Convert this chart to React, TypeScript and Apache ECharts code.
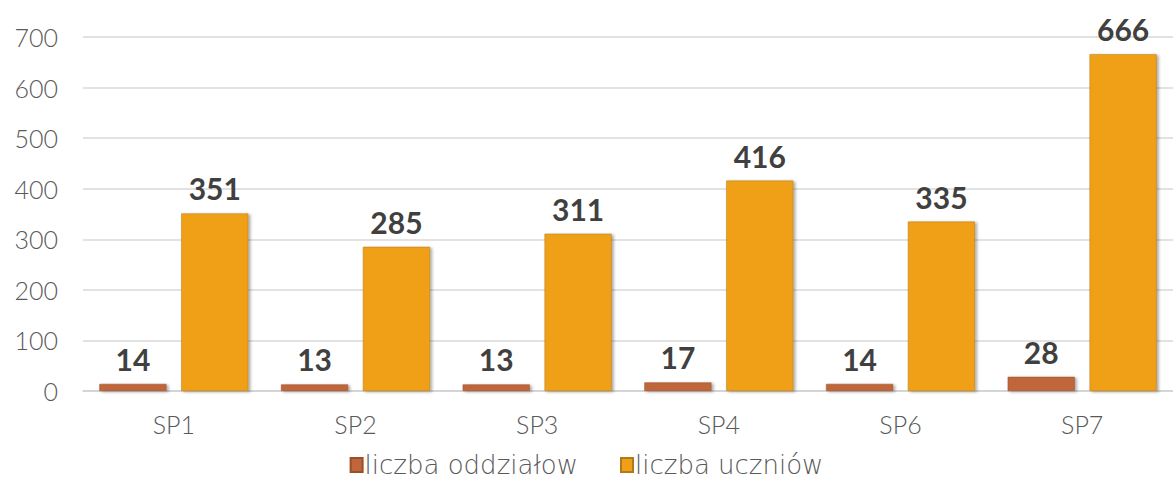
import React, { useEffect, useRef } from "react";
import * as echarts from "echarts";

const categories = ["SP1", "SP2", "SP3", "SP4", "SP6", "SP7"];
const oddzialy = [14, 13, 13, 17, 14, 28];
const uczniowie = [351, 285, 311, 416, 335, 666];
const seriesNames = ["liczba oddziałow", "liczba uczniów"];

const FONT = "Lato, 'DejaVu Sans', sans-serif";
const LEGEND_FONT = "'DejaVu Sans', Lato, sans-serif";

export default function App() {
  const ref = useRef<HTMLDivElement>(null);
  useEffect(() => {
    if (!ref.current) return;
    const chart = echarts.init(ref.current, undefined, { renderer: "svg" });
    const label = {
      show: true,
      position: "top",
      distance: 10,
      fontSize: 30,
      fontWeight: "bold",
      color: "#404040",
      fontFamily: FONT,
    };
    chart.setOption({
      animation: false,
      grid: { left: 83, right: 0, top: 37, bottom: 92 },
      legend: {
        bottom: 0,
        left: "center",
        itemWidth: 12,
        itemHeight: 14,
        itemGap: 42,
        icon: "rect",
        textStyle: {
          fontSize: 26,
          color: "#595959",
          fontFamily: LEGEND_FONT,
          fontWeight: 300,
          padding: [0, 0, 0, -3],
        },
        data: seriesNames,
      },
      xAxis: {
        type: "category",
        data: categories,
        axisLine: { lineStyle: { color: "#d0d0d0", width: 1.5 } },
        axisTick: { show: false },
        axisLabel: { fontSize: 25, color: "#595959", fontFamily: FONT, fontWeight: 300, margin: 20 },
      },
      yAxis: {
        type: "value",
        min: 0,
        max: 700,
        interval: 100,
        axisLine: { show: false },
        axisTick: { show: false },
        splitLine: { lineStyle: { color: "#d9d9d9", width: 1.5 } },
        axisLabel: { fontSize: 25, color: "#595959", fontFamily: FONT, fontWeight: 300, margin: 25 },
      },
      series: [
        {
          name: seriesNames[0],
          type: "bar",
          data: oddzialy,
          barGap: "22%",
          barCategoryGap: "18%",
          itemStyle: {
            color: "#C0663A",
            borderColor: "#9a4e2a",
            borderWidth: 0.5,
            shadowColor: "rgba(0,0,0,0.35)",
            shadowBlur: 3,
            shadowOffsetX: 2,
            shadowOffsetY: 1,
          },
          label,
        },
        {
          name: seriesNames[1],
          type: "bar",
          data: uczniowie,
          itemStyle: {
            color: "#F0A018",
            borderColor: "#b07a1a",
            borderWidth: 0.5,
            shadowColor: "rgba(0,0,0,0.35)",
            shadowBlur: 3,
            shadowOffsetX: 2,
            shadowOffsetY: 1,
          },
          label,
        },
      ],
    });
    return () => chart.dispose();
  }, []);
  return <div ref={ref} style={{ width: 1173, height: 483, position: "absolute", left: 0, top: 0 }} />;
}
